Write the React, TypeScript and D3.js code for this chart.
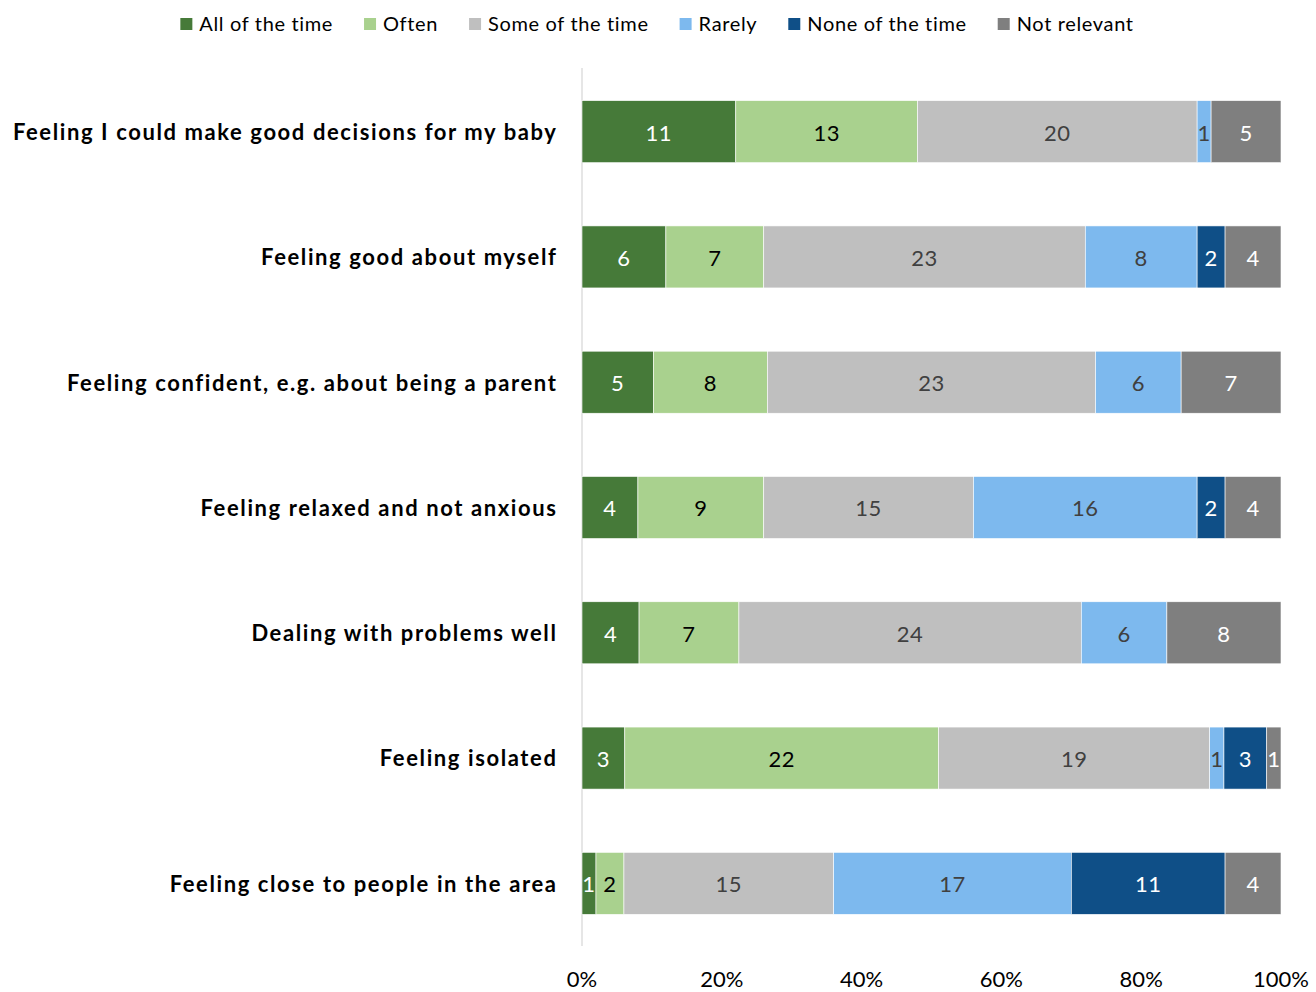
import React, { useEffect, useRef } from "react";
import * as d3 from "d3";

const categories = [
  "Feeling I could make good decisions for my baby",
  "Feeling good about myself",
  "Feeling confident, e.g. about being a parent",
  "Feeling relaxed and not anxious",
  "Dealing with problems well",
  "Feeling isolated",
  "Feeling close to people in the area",
];

const seriesNames = ["All of the time", "Often", "Some of the time", "Rarely", "None of the time", "Not relevant"];

const allOfTheTime = [11, 6, 5, 4, 4, 3, 1];
const often = [13, 7, 8, 9, 7, 22, 2];
const someOfTheTime = [20, 23, 23, 15, 24, 19, 15];
const rarely = [1, 8, 6, 16, 6, 1, 17];
const noneOfTheTime = [0, 2, 0, 2, 0, 3, 11];
const notRelevant = [5, 4, 7, 4, 8, 1, 4];

const tickValues = [0, 0.2, 0.4, 0.6, 0.8, 1.0];

const colors = ["#467A39", "#A9D18E", "#BFBFBF", "#7DB9EE", "#0F4F87", "#7F7F7F"];
const labelColors = ["#FFFFFF", "#000000", "#404040", "#404040", "#FFFFFF", "#FFFFFF"];

const FONT = "Lato, 'Open Sans', sans-serif";

export default function App() {
  const ref = useRef<SVGSVGElement | null>(null);

  useEffect(() => {
    const svg = d3.select(ref.current);
    svg.selectAll("*").remove();

    const seriesValues = [allOfTheTime, often, someOfTheTime, rarely, noneOfTheTime, notRelevant];
    const rows = categories.map((c, i) => {
      const vals = seriesValues.map((s) => s[i]);
      const total = d3.sum(vals);
      const row: any = { category: c, total };
      seriesNames.forEach((n, k) => (row[n] = vals[k] / total));
      return row;
    });

    const stack = d3.stack<any>().keys(seriesNames);
    const stacked = stack(rows);

    const x = d3.scaleLinear().domain([0, 1]).range([582, 1281]);
    const y = d3.scaleBand<string>().domain(categories).range([69, 946]).paddingInner(0.505).paddingOuter(0.2525);

    // axis line
    svg.append("line")
      .attr("x1", x(0)).attr("x2", x(0))
      .attr("y1", 68).attr("y2", 946)
      .attr("stroke", "#D9D9D9").attr("stroke-width", 1.3);

    stacked.forEach((layer, k) => {
      const g = svg.append("g");
      layer.forEach((d, i) => {
        const v = seriesValues[k][i];
        if (v === 0) return;
        const x0 = x(d[0]);
        const x1 = x(d[1]);
        g.append("rect")
          .attr("x", x0)
          .attr("y", y(categories[i])!)
          .attr("width", x1 - x0)
          .attr("height", y.bandwidth())
          .attr("fill", colors[k])
          .attr("stroke", "#FFFFFF")
          .attr("stroke-width", 0.6);
        g.append("text")
          .attr("x", (x0 + x1) / 2)
          .attr("y", y(categories[i])! + y.bandwidth() / 2 + 1)
          .attr("dy", "0.36em")
          .attr("text-anchor", "middle")
          .attr("font-family", FONT)
          .attr("font-size", 22)
          .attr("letter-spacing", 0.5)
          .attr("fill", labelColors[k])
          .text(String(v));
      });
    });

    // category labels
    svg.append("g").selectAll("text").data(categories).join("text")
      .attr("x", 557.5)
      .attr("y", (d) => y(d)! + y.bandwidth() / 2 + 0.5)
      .attr("dy", "0.36em")
      .attr("text-anchor", "end")
      .attr("font-family", FONT)
      .attr("font-weight", "bold")
      .attr("font-size", 22)
      .attr("letter-spacing", 1.6)
      .attr("fill", "#000")
      .text((d) => d);

    // ticks
    svg.append("g").selectAll("text").data(tickValues).join("text")
      .attr("x", (d) => x(d))
      .attr("y", 979)
      .attr("dy", "0.36em")
      .attr("text-anchor", "middle")
      .attr("font-family", FONT)
      .attr("font-size", 22)
      .attr("fill", "#000")
      .text((d) => d3.format(".0%")(d));

    // legend
    const lg = svg.append("g");
    const items = seriesNames.map((n, k) => {
      const it = lg.append("g");
      it.append("rect").attr("x", 0).attr("y", 18).attr("width", 12).attr("height", 12).attr("fill", colors[k]);
      const t = it.append("text")
        .attr("x", 19).attr("y", 24).attr("dy", "0.36em")
        .attr("font-family", FONT).attr("font-size", 20).attr("letter-spacing", 0.65)
        .attr("fill", "#000").text(n);
      const w = (t.node() as SVGTextElement).getComputedTextLength();
      return { it, w: 19 + w };
    });
    const gap = 31;
    const total = d3.sum(items, (d) => d.w) + gap * (items.length - 1);
    let cx = 657 - total / 2;
    items.forEach((d) => {
      d.it.attr("transform", `translate(${cx},0)`);
      cx += d.w + gap;
    });
  }, []);

  return (
    <svg ref={ref} width={1316} height={992} style={{ position: "absolute", left: 0, top: 0, background: "#fff" }} />
  );
}
